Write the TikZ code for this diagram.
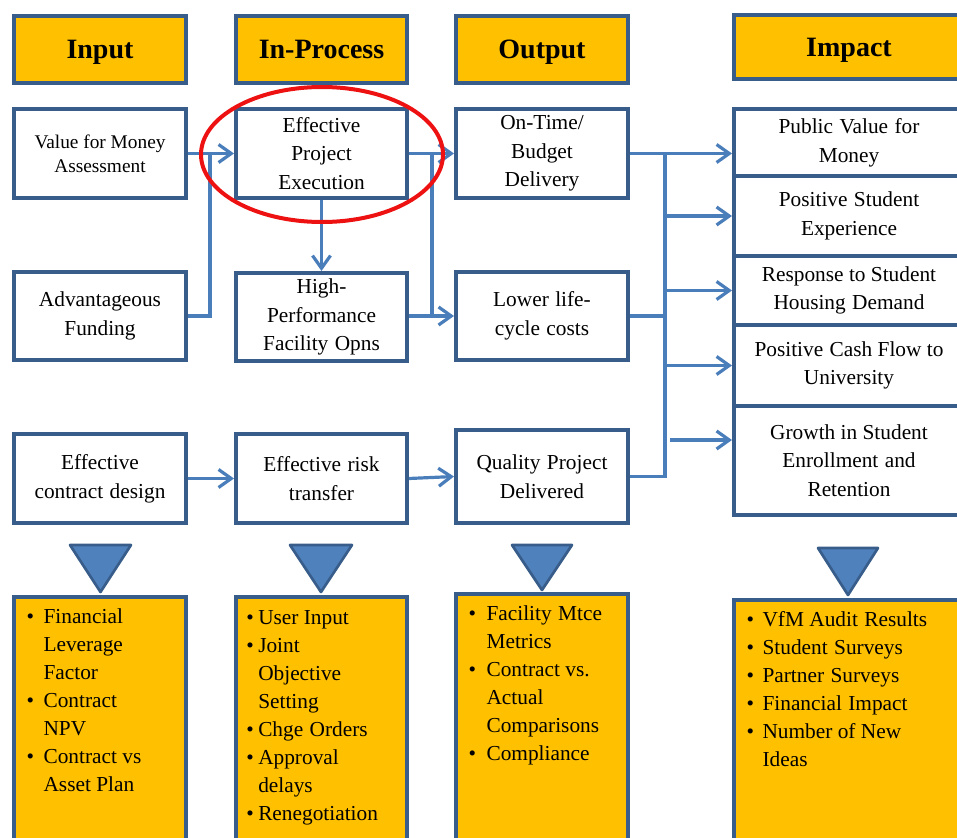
\documentclass[tikz,border=0pt]{standalone}
\usepackage{fontspec}
\setmainfont{Liberation Serif}
\usetikzlibrary{arrows.meta,shapes.geometric}

\definecolor{boxblue}{HTML}{385D8A}
\definecolor{linkblue}{HTML}{4A7EBB}
\definecolor{trifill}{HTML}{4F81BD}
\definecolor{gold}{HTML}{FFC000}
\definecolor{ringred}{HTML}{EE1111}

\newcommand\bxfont{\fontsize{16pt}{21.5pt}\selectfont}
\newcommand\hdfont{\fontsize{21pt}{25pt}\selectfont\bfseries}
\newcommand\smfont{\fontsize{14.5pt}{18pt}\selectfont}
\newcommand\lsfont{\fontsize{16pt}{21pt}\selectfont}
% bullet item and continuation line, #1 = hanging indent
\newcommand\bitem[2]{\makebox[#1][l]{\textbullet}#2}
\newcommand\bcont[2]{\hspace*{#1}#2}
% wider word gap
\newcommand\ws{\hspace{0.3em}}

\begin{document}
\begin{tikzpicture}[x=0.75pt,y=-0.75pt,
  box/.style={draw=boxblue,line width=3pt,fill=white,inner sep=0pt,align=center,font=\bxfont},
  head/.style={box,fill=gold,font=\hdfont,text height=14pt,text depth=0pt},
  listbox/.style={box,fill=gold},
  colA/.style={minimum width=129pt},
  colB/.style={minimum width=128.25pt},
  colC/.style={minimum width=129pt},
  colD/.style={minimum width=172.5pt},
  rowh/.style={minimum height=#1},
  link/.style={draw=linkblue,line width=2.4pt},
  arrow/.style={link,-{Straight Barb[length=9.5pt,width=13.5pt]}},
  tri/.style={fill=trifill,draw=boxblue,line width=2pt,line join=round},
  list/.style={anchor=base west,inner sep=0pt,font=\lsfont},
]
\useasboundingbox (0,0) rectangle (957,838);

% column headers
\node[head,colA,rowh=50.25pt] (hin)  at (100,49.5)   {Input};
\node[head,colB,rowh=50.25pt] (hpr)  at (321.5,49.5) {In-Process};
\node[head,colC,rowh=50.25pt] (hout) at (542,49.5)   {Output};
\node[head,colD,rowh=48pt]    (himp) at (849,47)     {Impact};

% first row
\node[box,colA,rowh=66.75pt,font=\smfont] (vfm) at (100,153.5) {Value for Money\\Assessment};
\node[box,colB,rowh=66.75pt] (epe) at (321.5,153.5) {Effective\\Project\\Execution};
\node[box,colC,rowh=66.75pt] (otb) at (542,153.5) {On-Time/\\Budget\\Delivery};

% second row
\node[box,colA,rowh=66pt] (adv) at (100,316)   {Advantageous\\Funding};
\node[box,colB,rowh=66pt] (hpf) at (321.5,317) {High-\\Performance\\Facility\ws Opns};
\node[box,colC,rowh=66pt] (lcc) at (542,316)   {Lower\ws life-\\cycle\ws costs};

% third row
\node[box,colA,rowh=66.75pt] (ecd) at (100,478.5)   {Effective\\contract\ws design};
\node[box,colB,rowh=66.75pt] (ert) at (321.5,478.5) {Effective\ws risk\\transfer};
\node[box,colC,rowh=69.75pt] (qpd) at (542,476.5)   {Quality\ws Project\\Delivered};

% impact column: stacked boxes sharing their dividing lines
\node[box,colD,rowh=50.25pt] (pvm) at (849,142.5) {Public\ws Value\ws for\\Money};
\node[box,colD,rowh=60pt]    (pse) at (849,216)   {Positive\ws Student\\Experience};
\node[box,colD,rowh=51.75pt] (rsh) at (849,290.5) {Response to Student\\Housing\ws Demand};
\node[box,colD,rowh=60.75pt] (pcf) at (849,365.5) {Positive\ws Cash Flow to\\University};
\node[box,colD,rowh=81.75pt] (gse) at (849,460.5) {Growth in Student\\Enrollment\ws and\\Retention};

% measure boxes
\node[listbox,colA,rowh=195.75pt] (min)  at (100,727.5)   {};
\node[listbox,colB,rowh=195.75pt] (mpr)  at (321.5,727.5) {};
\node[listbox,colC,rowh=198pt]    (mout) at (542,726)     {};
\node[listbox,colD,rowh=193.5pt]  (mimp) at (849,729)     {};

% pointers above the measure boxes
\draw[tri] (70,545) -- (131,545) -- (100.5,592) -- cycle;
\draw[tri] (290,545) -- (352,545) -- (321,592) -- cycle;
\draw[tri] (512,545) -- (572,545) -- (542,590) -- cycle;
\draw[tri] (818,548) -- (878,548) -- (848,595) -- cycle;

% measure lists
\node[list] (lin) at (26.3,623) {\begin{tabular}[t]{@{}l@{}}
  \bitem{12.75pt}{Financial}\\ \bcont{12.75pt}{Leverage}\\ \bcont{12.75pt}{Factor}\\
  \bitem{12.75pt}{Contract}\\ \bcont{12.75pt}{NPV}\\
  \bitem{12.75pt}{Contract vs}\\ \bcont{12.75pt}{Asset Plan}
\end{tabular}};
\node[list] (lpr) at (246,624) {\begin{tabular}[t]{@{}l@{}}
  \bitem{9pt}{User Input}\\
  \bitem{9pt}{Joint}\\ \bcont{9pt}{Objective}\\ \bcont{9pt}{Setting}\\
  \bitem{9pt}{Chge\ws Orders}\\
  \bitem{9pt}{Approval}\\ \bcont{9pt}{delays}\\
  \bitem{9pt}{Renegotiation}
\end{tabular}};
\node[list] (lout) at (468.3,620) {\begin{tabular}[t]{@{}l@{}}
  \bitem{13.5pt}{Facility\ws Mtce}\\ \bcont{13.5pt}{Metrics}\\
  \bitem{13.5pt}{Contract vs.}\\ \bcont{13.5pt}{Actual}\\ \bcont{13.5pt}{Comparisons}\\
  \bitem{13.5pt}{Compliance}
\end{tabular}};
\node[list] (limp) at (746.3,626) {\begin{tabular}[t]{@{}l@{}}
  \bitem{12pt}{VfM Audit\ws Results}\\
  \bitem{12pt}{Student\ws Surveys}\\
  \bitem{12pt}{Partner\ws Surveys}\\
  \bitem{12pt}{Financial\ws Impact}\\
  \bitem{12pt}{Number of New}\\ \bcont{12pt}{Ideas}
\end{tabular}};

% junction points
\coordinate (fa) at (210,153.5);
\coordinate (ra) at (432,153.5);
\coordinate (rb) at (432,316);
\coordinate (bt) at (665,153.5);
\coordinate (gs) at (670,440);

% input to in-process
\draw[arrow] (vfm) -- (epe);
\draw[link] (adv.east) -| (fa);
\draw[arrow] (ecd) -- (ert);

% in-process to output
\draw[arrow] (epe) -- (hpf);
\draw[arrow] (epe) -- (otb);
\draw[arrow] (hpf.east |- lcc.west) -- (lcc.west);
\draw[link] (ra) -- (rb);
\draw[arrow] (ert.east) -- (qpd.west);

% output to impact bus
\draw[arrow] (otb.east) -- (otb.east -| pvm.west);
\draw[link] (lcc.east) -- (lcc.east -| bt);
\draw[link] (qpd.east) -| (bt);
\draw[arrow] (bt |- pse.west) -- (pse.west);
\draw[arrow] (bt |- rsh.west) -- (rsh.west);
\draw[arrow] (bt |- pcf.west) -- (pcf.west);
\draw[arrow] (gs) -- (gs -| gse.west);

% highlight ring
\node[draw=ringred,line width=3pt,ellipse,inner sep=0pt,
      minimum width=181.5pt,minimum height=101.25pt] (ring) at (322,154.5) {};
\end{tikzpicture}
\end{document}
